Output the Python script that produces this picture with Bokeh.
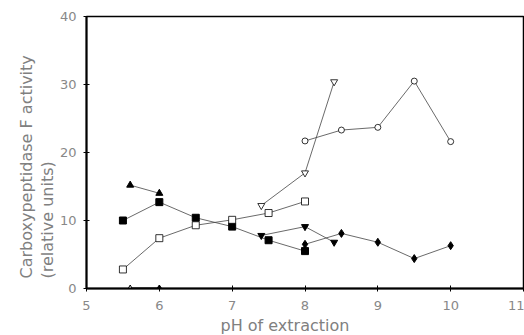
from bokeh.plotting import figure
from bokeh.embed import file_html
from bokeh.resources import INLINE
from bokeh.models import FixedTicker, Title

# Data
tri_up_x = [5.6, 6.0]
tri_up_y = [15.2, 14.0]

sq_fill_x = [5.5, 6.0, 6.5, 7.0, 7.5, 8.0]
sq_fill_y = [10.0, 12.7, 10.4, 9.1, 7.1, 5.5]

sq_open_x = [5.5, 6.0, 6.5, 7.0, 7.5, 8.0]
sq_open_y = [2.8, 7.4, 9.3, 10.1, 11.1, 12.8]

inv_open_x = [7.4, 8.0, 8.4]
inv_open_y = [12.2, 17.0, 30.4]

circ_x = [8.0, 8.5, 9.0, 9.5, 10.0]
circ_y = [21.7, 23.3, 23.7, 30.5, 21.6]

inv_fill_x = [7.4, 8.0, 8.4]
inv_fill_y = [7.8, 9.1, 6.8]

dia_x = [8.0, 8.5, 9.0, 9.5, 10.0]
dia_y = [6.5, 8.1, 6.8, 4.4, 6.3]

zero_x = [5.6, 6.0]
zero_y = [0.0, 0.0]

x_ticks = [5, 6, 7, 8, 9, 10, 11]
y_ticks = [0, 10, 20, 30, 40]

x_title = "pH of extraction"
y_title_1 = "Carboxypeptidase F activity"
y_title_2 = "(relative units)"

p = figure(width=524, height=335, output_backend="svg", toolbar_location=None,
           x_range=(5, 11), y_range=(0, 40),
           min_border_left=86, min_border_right=1, min_border_top=16, min_border_bottom=10)
p.grid.visible = False
p.outline_line_color = "black"
p.outline_line_width = 1.5
p.background_fill_color = "white"
p.border_fill_color = "white"

line_kw = dict(line_color="#444444", line_width=0.8)

p.line(tri_up_x, tri_up_y, **line_kw)
p.scatter(tri_up_x, tri_up_y, marker="triangle", size=7, fill_color="black", line_color="black")

p.line(sq_fill_x, sq_fill_y, **line_kw)
p.scatter(sq_fill_x, sq_fill_y, marker="square", size=7, fill_color="black", line_color="black")

p.line(sq_open_x, sq_open_y, **line_kw)
p.scatter(sq_open_x, sq_open_y, marker="square", size=7, fill_color="white", line_color="black", line_width=0.8)

p.line(inv_open_x, inv_open_y, **line_kw)
p.scatter(inv_open_x, inv_open_y, marker="inverted_triangle", size=7, fill_color="white", line_color="black", line_width=0.8)

p.line(circ_x, circ_y, **line_kw)
p.scatter(circ_x, circ_y, marker="circle", size=6, fill_color="white", line_color="black", line_width=0.8)

p.line(inv_fill_x, inv_fill_y, **line_kw)
p.scatter(inv_fill_x, inv_fill_y, marker="inverted_triangle", size=7, fill_color="black", line_color="black")

p.line(dia_x, dia_y, **line_kw)
p.scatter(dia_x, dia_y, marker="diamond", size=8, fill_color="black", line_color="black")

p.line(zero_x, zero_y, line_color="black", line_width=2)
p.scatter(zero_x[:1], zero_y[:1], marker="triangle", size=6, fill_color="white", line_color="black")
p.scatter(zero_x[1:], zero_y[1:], marker="diamond", size=7, fill_color="black", line_color="black")

font = "DejaVu Sans"
for ax in (p.xaxis[0], p.yaxis[0]):
    ax.axis_line_width = 2
    ax.axis_line_color = "black"
    ax.major_tick_in = 3
    ax.major_tick_out = 3
    ax.major_tick_line_color = "black"
    ax.minor_tick_line_color = None
    ax.major_label_text_font = font
    ax.major_label_text_color = "#888888"
    ax.major_label_text_font_size = "13px"

p.xaxis[0].ticker = FixedTicker(ticks=x_ticks)
p.yaxis[0].ticker = FixedTicker(ticks=y_ticks)
p.xaxis[0].major_label_standoff = 9
p.yaxis[0].major_label_standoff = 7

t_kw = dict(text_font=font, text_color="#808080", text_font_size="16px", text_font_style="normal")
p.add_layout(Title(text=y_title_2, align="left", offset=10, standoff=0, **t_kw), "left")
p.add_layout(Title(text=y_title_1, align="left", offset=10, standoff=0, **t_kw), "left")
p.add_layout(Title(text=x_title, align="left", offset=134, standoff=2, **t_kw), "below")

open("out.html", "w").write(file_html(p, INLINE))
